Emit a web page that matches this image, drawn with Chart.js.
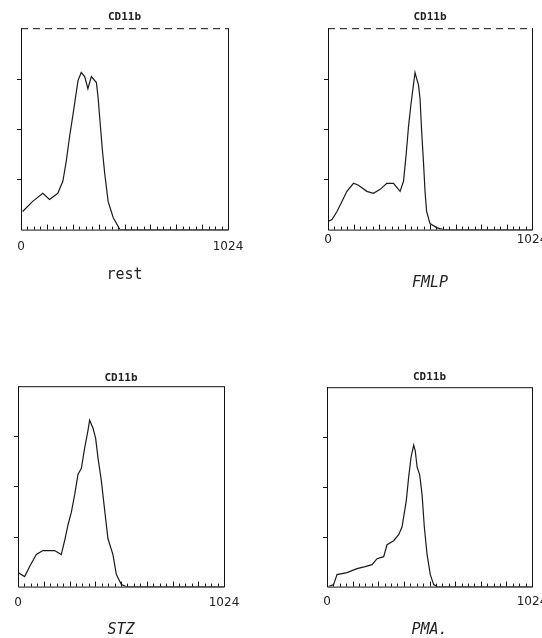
<!DOCTYPE html>
<html>
<head>
<meta charset="utf-8">
<script src="https://cdn.jsdelivr.net/npm/chart.js@4.4.1/dist/chart.umd.min.js"></script>
<style>
  html, body { margin: 0; padding: 0; background: #fff; overflow: hidden; width: 542px; height: 638px; }
  canvas { position: absolute; }
</style>
</head>
<body>
<canvas id="c1" width="271" height="319" style="left:0;top:0"></canvas>
<canvas id="c2" width="290" height="319" style="left:271px;top:0"></canvas>
<canvas id="c3" width="271" height="325" style="left:0;top:319px"></canvas>
<canvas id="c4" width="290" height="325" style="left:271px;top:319px"></canvas>
<script>
// channel (x) 0..1024, cell count as % of scale (y)
const marker = 'CD11b';
const xTicks = [0, 1024];

const restX = [8, 58, 108, 141, 182, 207, 224, 240, 257, 282, 298, 315, 331, 348, 373, 381, 389, 403, 414, 431, 456, 489, 1024];
const restY = [9, 14, 18, 15, 18, 24, 34, 46, 57, 74, 78, 76, 70, 76, 73, 66, 56, 39, 28, 14, 6, 0, 0];

const fmlpX = [0, 20, 45, 70, 95, 128, 153, 195, 228, 262, 295, 329, 362, 379, 392, 404, 415, 429, 437, 445, 454, 462, 470, 479, 487, 495, 512, 545, 579, 1024];
const fmlpY = [4, 5, 9, 14, 19, 23, 22, 19, 18, 20, 23, 23, 19, 24, 37, 51, 61, 72, 78, 75, 72, 65, 49, 34, 19, 9, 3, 1, 0, 0];

const stzX = [0, 33, 58, 91, 124, 157, 182, 215, 232, 249, 265, 282, 298, 315, 331, 348, 356, 373, 386, 398, 414, 431, 447, 472, 489, 514, 538, 1024];
const stzY = [7, 5, 10, 16, 18, 18, 18, 16, 23, 31, 37, 46, 56, 59, 69, 78, 83, 79, 74, 64, 53, 38, 24, 16, 6, 1, 0, 0];

const pmaX = [8, 33, 50, 100, 150, 191, 225, 250, 283, 300, 333, 358, 375, 383, 396, 408, 420, 433, 441, 450, 463, 475, 486, 500, 516, 533, 549, 1024];
const pmaY = [0, 1, 6, 7, 9, 10, 11, 14, 15, 21, 23, 26, 30, 35, 43, 55, 65, 71, 68, 60, 56, 46, 30, 16, 6, 1, 0, 0];

/* ---------- BOX + TICK MARKS ---------- */
const boxPlugin = {
    id: 'histBox',
    afterDraw(chart) {
        const { ctx, chartArea: a, scales } = chart;
        const dashTop = chart.options.plugins.histBox.dashTop;
        ctx.save();
        ctx.strokeStyle = '#111';
        ctx.lineWidth = 1;
        ctx.beginPath();
        ctx.moveTo(a.left + 0.5, a.top);
        ctx.lineTo(a.left + 0.5, a.bottom + 0.5);
        ctx.lineTo(a.right + 0.5, a.bottom + 0.5);
        ctx.lineTo(a.right + 0.5, a.top);
        ctx.stroke();

        ctx.beginPath();
        if (dashTop) ctx.setLineDash([7, 5]);
        ctx.moveTo(a.left, a.top + 0.5);
        ctx.lineTo(a.right, a.top + 0.5);
        ctx.stroke();
        ctx.setLineDash([]);

        // small inward ticks along the channel axis
        ctx.beginPath();
        for (let v = 32; v < 1024; v += 32) {
            const px = Math.round(scales.x.getPixelForValue(v)) + 0.5;
            ctx.moveTo(px, a.bottom);
            ctx.lineTo(px, a.bottom - (v % 128 === 0 ? 5 : 3));
        }
        // outward ticks on the count axis
        [25, 50, 75].forEach(v => {
            const py = Math.round(scales.y.getPixelForValue(v)) + 0.5;
            ctx.moveTo(a.left, py);
            ctx.lineTo(a.left - 4, py);
        });
        ctx.stroke();
        ctx.restore();
    }
};

function histogram(id, xs, ys, label, pad, italic, dashTop) {
    return new Chart(document.getElementById(id), {
        type: 'line',
        plugins: [boxPlugin],
        data: {
            datasets: [{
                data: xs.map((x, i) => ({ x, y: ys[i] })),
                borderColor: '#1a1a1a',
                borderWidth: 1.2,
                pointRadius: 0,
                tension: 0
            }]
        },
        options: {
            responsive: false,
            animation: false,
            layout: { padding: { left: pad.left, right: pad.right, top: 0, bottom: 0 } },
            plugins: {
                legend: { display: false },
                tooltip: { enabled: false },
                histBox: { dashTop },
                title: {
                    display: true,
                    text: marker,
                    color: '#222',
                    font: { family: 'DejaVu Sans Mono', size: 11 },
                    padding: { top: pad.tTop, bottom: pad.tBottom }
                }
            },
            scales: {
                x: {
                    type: 'linear',
                    min: 0,
                    max: 1024,
                    grid: { display: false, drawTicks: false },
                    border: { display: false },
                    afterBuildTicks: s => { s.ticks = xTicks.map(value => ({ value })); },
                    ticks: {
                        color: '#222',
                        padding: pad.lab,
                        maxRotation: 0,
                        font: { family: 'DejaVu Sans', size: 12 },
                        callback: v => String(v)
                    },
                    title: {
                        display: true,
                        text: label,
                        color: '#222',
                        font: { family: 'DejaVu Sans Mono', size: 15, style: italic ? 'italic' : 'normal' },
                        padding: { top: pad.cTop, bottom: pad.cBottom }
                    }
                },
                y: { display: false, min: 0, max: 100 }
            }
        }
    });
}

histogram('c1', restX, restY, 'rest', { left: 21, right: 43, tTop: 11, tBottom: 4, lab: 10, cTop: 2, cBottom: 35 }, false, true);
histogram('c2', fmlpX, fmlpY, 'FMLP', { left: 57, right: 29, tTop: 11, tBottom: 4, lab: 3, cTop: 24, cBottom: 27 }, true, true);
histogram('c3', stzX, stzY, 'STZ', { left: 18, right: 47, tTop: 53, tBottom: 1, lab: 9, cTop: 2, cBottom: 5 }, true, false);
histogram('c4', pmaX, pmaY, 'PMA.', { left: 56, right: 29, tTop: 52, tBottom: 3, lab: 8, cTop: 4, cBottom: 5 }, true, false);
</script>
</body>
</html>
